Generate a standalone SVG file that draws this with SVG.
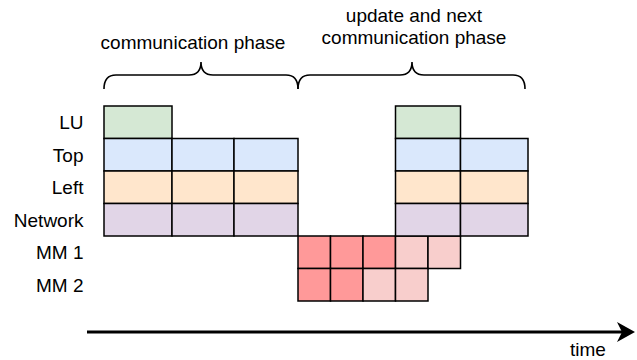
<svg xmlns="http://www.w3.org/2000/svg" width="637" height="360" viewBox="0 0 637 360">
<style>
text{font-family:"Liberation Sans",Arial,sans-serif;font-size:19px;fill:#000}
.lbl{text-anchor:end}
.mid{text-anchor:middle}
rect{stroke:#000;stroke-width:1.5}
.g{fill:#d5e8d4}.b{fill:#dae8fc}.o{fill:#ffe6cc}.p{fill:#e1d5e7}.r{fill:#ff9999}.l{fill:#f8cecc}
.br{fill:none;stroke:#000;stroke-width:1.6}
</style>
<g id="labels">
<text class="lbl" x="83.5" y="129">LU</text>
<text class="lbl" x="83.5" y="161.5">Top</text>
<text class="lbl" x="83.5" y="194">Left</text>
<text class="lbl" x="83.5" y="226.5">Network</text>
<text class="lbl" x="83.5" y="259">MM 1</text>
<text class="lbl" x="83.5" y="291.5">MM 2</text>
</g>
<g id="phase-labels">
<text class="mid" x="193" y="49">communication phase</text>
<text class="mid" x="414" y="22">update and next</text>
<text class="mid" x="414" y="44">communication phase</text>
</g>
<g id="braces">
<path class="br" d="M104,89 Q104,75 116,75 L189,75 Q201,75 201,62 Q201,75 213,75 L286,75 Q298,75 298,89"/>
<path class="br" d="M298,89 Q298,75 310,75 L400,75 Q412,75 412,62 Q412,75 424,75 L513,75 Q525,75 525,89"/>
</g>
<g id="block-left">
<rect class="g" x="104" y="106" width="68" height="32.5"/>
<rect class="b" x="104" y="138.5" width="68" height="32.5"/>
<rect class="b" x="172" y="138.5" width="62" height="32.5"/>
<rect class="b" x="234" y="138.5" width="64" height="32.5"/>
<rect class="o" x="104" y="171" width="68" height="32.5"/>
<rect class="o" x="172" y="171" width="62" height="32.5"/>
<rect class="o" x="234" y="171" width="64" height="32.5"/>
<rect class="p" x="104" y="203.5" width="68" height="32.5"/>
<rect class="p" x="172" y="203.5" width="62" height="32.5"/>
<rect class="p" x="234" y="203.5" width="64" height="32.5"/>
</g>
<g id="block-mm">
<rect class="r" x="298" y="236" width="32.5" height="32.5"/>
<rect class="r" x="330.5" y="236" width="32.5" height="32.5"/>
<rect class="r" x="363" y="236" width="32.5" height="32.5"/>
<rect class="l" x="395.5" y="236" width="32.5" height="32.5"/>
<rect class="l" x="428" y="236" width="32.5" height="32.5"/>
<rect class="r" x="298" y="268.5" width="32.5" height="32.5"/>
<rect class="r" x="330.5" y="268.5" width="32.5" height="32.5"/>
<rect class="l" x="363" y="268.5" width="32.5" height="32.5"/>
<rect class="l" x="395.5" y="268.5" width="32.5" height="32.5"/>
</g>
<g id="block-right">
<rect class="g" x="395.5" y="106" width="65" height="32.5"/>
<rect class="b" x="395.5" y="138.5" width="65" height="32.5"/>
<rect class="b" x="460.5" y="138.5" width="67.5" height="32.5"/>
<rect class="o" x="395.5" y="171" width="65" height="32.5"/>
<rect class="o" x="460.5" y="171" width="67.5" height="32.5"/>
<rect class="p" x="395.5" y="203.5" width="65" height="32.5"/>
<rect class="p" x="460.5" y="203.5" width="67.5" height="32.5"/>
</g>
<g id="connectors">
<line x1="87" y1="332" x2="622" y2="332" stroke="#000" stroke-width="3"/>
<path d="M635,332 L617,322 L622,332 L617,342 Z" fill="#000"/>
</g>
<text x="570" y="355.5">time</text>
</svg>
